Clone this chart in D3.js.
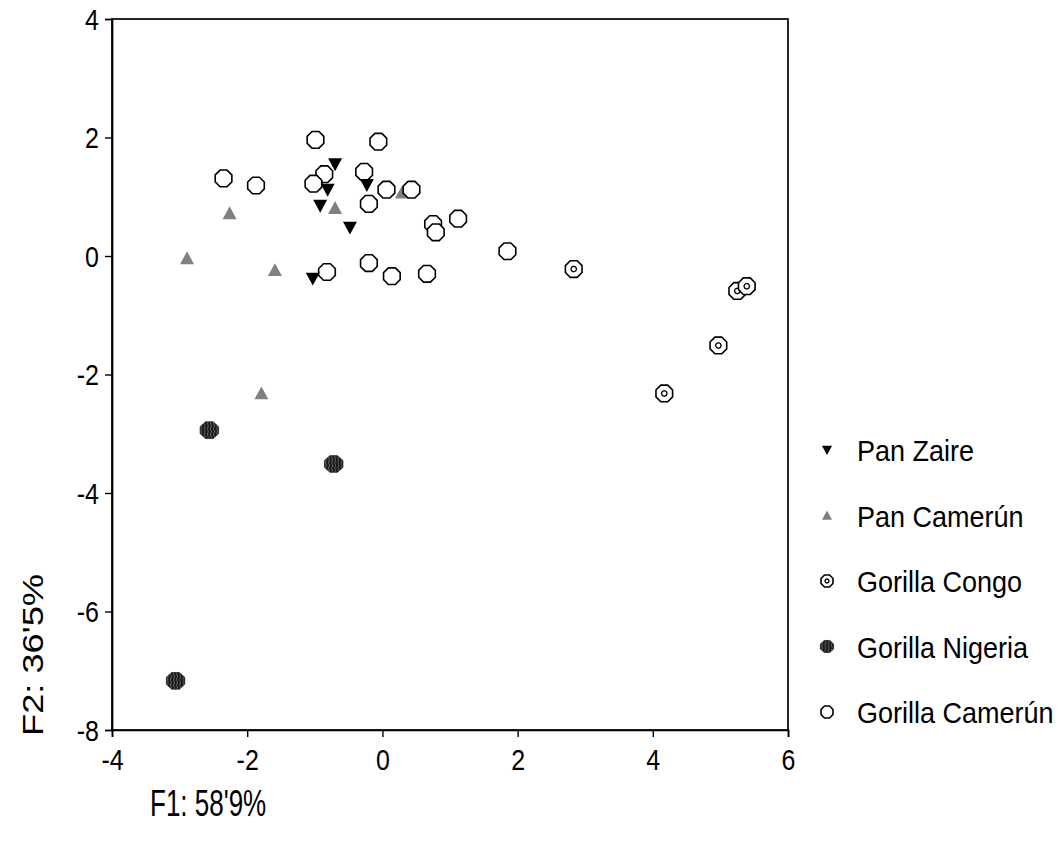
<!DOCTYPE html>
<html>
<head>
<meta charset="utf-8">
<script src="https://cdn.jsdelivr.net/npm/d3@7/dist/d3.min.js"></script>
<style>
  html, body { margin: 0; padding: 0; background: #fff; }
  svg { display: block; }
  text { font-family: "Liberation Sans", Arial, sans-serif; fill: #000; }
</style>
</head>
<body>
<svg id="chart" width="1061" height="854"></svg>
<script>
// ---- Data ----
const xTicks = [-4, -2, 0, 2, 4, 6];
const yTicks = [4, 2, 0, -2, -4, -6, -8];
const xLabel = "F1: 58'9%";
const yLabel = "F2: 36'5%";
const seriesNames = ["Pan Zaire", "Pan Camerún", "Gorilla Congo", "Gorilla Nigeria", "Gorilla Camerún"];

const panZaire = [[-0.70, 1.55], [-0.81, 1.12], [-0.23, 1.20], [-0.92, 0.85], [-0.48, 0.48], [-1.03, -0.38]];
const panCamerun = [[-2.89, -0.04], [-2.26, 0.72], [-0.70, 0.81], [-1.59, -0.24], [0.29, 1.07], [-1.79, -2.32]];
const gorillaCongo = [[2.83, -0.22], [5.25, -0.59], [5.39, -0.51], [4.97, -1.51], [4.17, -2.32]];
const gorillaNigeria = [[-2.56, -2.94], [-0.72, -3.51], [-3.06, -7.17]];
const gorillaCamerun = [
  [-0.99, 1.96], [-0.06, 1.93], [-2.35, 1.31], [-1.87, 1.19], [-0.86, 1.38], [-1.02, 1.22],
  [-0.27, 1.42], [0.06, 1.12], [0.43, 1.12], [-0.20, 0.88], [0.75, 0.54], [0.79, 0.40],
  [1.12, 0.63], [1.85, 0.08], [0.14, -0.34], [0.66, -0.30], [-0.82, -0.27], [-0.20, -0.12]
];

// ---- Layout ----
const svg = d3.select("#chart");
const mLeft = 112, mRight = 788, mTop = 19, mBottom = 730;
const x = d3.scaleLinear().domain([-4, 6]).range([mLeft, mRight]);
const y = d3.scaleLinear().domain([-8, 4]).range([mBottom, mTop]);

// pattern for Gorilla Nigeria
const defs = svg.append("defs");
const pat = defs.append("pattern").attr("id", "stripes").attr("patternUnits", "userSpaceOnUse")
  .attr("width", 3).attr("height", 6);
pat.append("rect").attr("width", 3).attr("height", 6).attr("fill", "#1a1a1a");
pat.append("path").attr("d", "M1.5,0 Q2.3,1.5 1.5,3 Q0.7,4.5 1.5,6").attr("stroke", "#6a6a6a").attr("stroke-width", 0.8).attr("fill", "none");

// marker shapes
const octagon = {
  draw(ctx, size) {
    const r = Math.sqrt(size / (2 * Math.SQRT2));
    for (let k = 0; k < 8; k++) {
      const a = Math.PI / 8 + k * Math.PI / 4;
      const px = r * Math.cos(a), py = r * Math.sin(a);
      if (k === 0) ctx.moveTo(px, py); else ctx.lineTo(px, py);
    }
    ctx.closePath();
  }
};
const octSize = r => 2 * Math.SQRT2 * r * r;
const triDown = {
  draw(ctx, size) {
    const w = Math.sqrt(size);
    ctx.moveTo(-w / 2, -w * 0.42);
    ctx.lineTo(w / 2, -w * 0.42);
    ctx.lineTo(0, w * 0.5);
    ctx.closePath();
  }
};
const triUp = {
  draw(ctx, size) {
    const w = Math.sqrt(size);
    ctx.moveTo(-w / 2, w * 0.42);
    ctx.lineTo(w / 2, w * 0.42);
    ctx.lineTo(0, -w * 0.5);
    ctx.closePath();
  }
};

function drawMarker(g, type, scale) {
  const s = scale || 1;
  if (type === 0) {
    g.append("path").attr("d", d3.symbol(triDown, 14 * 14 * s * s)()).attr("fill", "#000");
  } else if (type === 1) {
    g.append("path").attr("d", d3.symbol(triUp, 14 * 14 * s * s)()).attr("fill", "#808080");
  } else if (type === 2) {
    g.append("path").attr("d", d3.symbol(octagon, octSize(9 * s))()).attr("fill", "#fff").attr("stroke", "#000").attr("stroke-width", 1.6);
    g.append("path").attr("d", d3.symbol(octagon, octSize(2.8 * s))()).attr("fill", "#fff").attr("stroke", "#000").attr("stroke-width", 1.3)
      .attr("transform", "rotate(22.5)");
  } else if (type === 3) {
    g.append("path").attr("d", d3.symbol(octagon, octSize(9.5 * s))()).attr("fill", "url(#stripes)").attr("stroke", "#222").attr("stroke-width", 0.8)
      .attr("transform", "scale(1.05,0.95)");
  } else {
    g.append("path").attr("d", d3.symbol(octagon, octSize(9 * s))()).attr("fill", "#fff").attr("stroke", "#000").attr("stroke-width", 1.6);
  }
}

// ---- Frame ----
svg.append("rect").attr("x", mLeft).attr("y", mTop).attr("width", mRight - mLeft).attr("height", mBottom - mTop)
  .attr("fill", "none").attr("stroke", "#000").attr("stroke-width", 1.7);

// ---- Axes ----
const fmt = d => String(d);
const xAxis = d3.axisBottom(x).tickValues(xTicks).tickSize(7).tickFormat(fmt);
const yAxis = d3.axisLeft(y).tickValues(yTicks).tickSize(7).tickFormat(fmt);
const gx = svg.append("g").attr("transform", `translate(0,${mBottom})`).call(xAxis);
const gy = svg.append("g").attr("transform", `translate(${mLeft},0)`).call(yAxis);
[gx, gy].forEach(g => {
  g.attr("font-family", null).attr("font-size", null);
  g.select(".domain").attr("stroke", "#000").attr("stroke-width", 1.7);
  g.selectAll(".tick line").attr("stroke", "#000").attr("stroke-width", 1.4);
  g.selectAll(".tick text").attr("fill", "#000")
    .style("font-family", '"Liberation Sans", Arial, sans-serif').style("font-size", "25px");
});
// vertically stretched glyphs as in the reference
gx.selectAll(".tick text").attr("y", null).attr("dy", null)
  .attr("transform", "translate(0,40) scale(1,1.15)");
gy.selectAll(".tick text").attr("x", null).attr("dy", null)
  .attr("transform", "translate(-13,10) scale(1,1.15)");

// ---- Points ----
const plot = svg.append("g");
const groups = [
  { data: panCamerun, type: 1 },
  { data: gorillaCongo, type: 2 },
  { data: gorillaNigeria, type: 3 },
  { data: gorillaCamerun, type: 4 },
  { data: panZaire, type: 0 }
];
groups.forEach(gr => {
  plot.selectAll(null).data(gr.data).enter().append("g")
    .attr("transform", d => `translate(${x(d[0])},${y(d[1])})`)
    .each(function() { drawMarker(d3.select(this), gr.type, 1); });
});

// ---- Axis titles ----
svg.append("text").attr("transform", "translate(150,816) scale(1,1.4)").style("font-size", "26px").text(xLabel);
svg.append("text").attr("transform", "translate(43,655) rotate(-90)").attr("text-anchor", "middle")
  .style("font-size", "30px").attr("textLength", 162).attr("lengthAdjust", "spacingAndGlyphs").text(yLabel);

// ---- Legend ----
const legendY = d3.scaleLinear().domain([0, 4]).range([450, 712]);
const legend = svg.append("g");
seriesNames.forEach((name, i) => {
  const g = legend.append("g").attr("transform", `translate(827,${legendY(i)})`);
  drawMarker(g, i, 0.72);
  g.append("text").attr("transform", "translate(30,11) scale(1,1.1)").style("font-size", "27px").text(name);
});
</script>
</body>
</html>
